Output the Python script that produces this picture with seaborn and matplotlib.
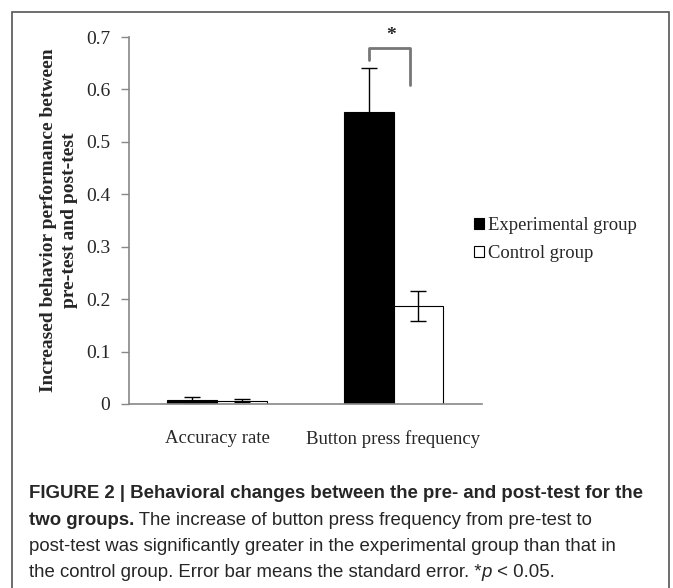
import matplotlib
matplotlib.use("Agg")
import matplotlib.pyplot as plt
import matplotlib.patches as mpatches
from matplotlib import font_manager
import pandas as pd
import seaborn as sns

# values
categories = ["Accuracy rate", "Button press frequency"]
groups = ["Experimental group", "Control group"]
exp_means = [0.008, 0.557]
exp_se = [0.006, 0.084]
ctl_means = [0.006, 0.187]
ctl_se = [0.003, 0.029]
y_ticks = [0, 0.1, 0.2, 0.3, 0.4, 0.5, 0.6, 0.7]
y_tick_labels = ["0", "0.1", "0.2", "0.3", "0.4", "0.5", "0.6", "0.7"]

names = {f.name for f in font_manager.fontManager.ttflist}
serif = "Liberation Serif" if "Liberation Serif" in names else "DejaVu Serif"
sans = "Liberation Sans" if "Liberation Sans" in names else "DejaVu Sans"

sns.set_style("white")
plt.rcParams["font.family"] = [serif, "DejaVu Sans"]

df = pd.DataFrame({
	"category": categories * 2,
	"group": [groups[0]] * 2 + [groups[1]] * 2,
	"value": exp_means + ctl_means,
	"se": exp_se + ctl_se,
})

fig = plt.figure(figsize=(6.73, 5.88), dpi=100)
ax = fig.add_axes([0.1917, 0.313, 0.524, 0.624])

sns.barplot(data=df, x="category", y="value", hue="group", order=categories,
			hue_order=groups, palette=["black", "white"], width=0.565,
			errorbar=None, edgecolor="black", linewidth=0.8, legend=False, ax=ax)

# error bars from the bar positions seaborn laid out
for cont, grp in zip(ax.containers, groups):
	sub = df[df["group"] == grp].set_index("category").loc[categories]
	xs = [b.get_x() + b.get_width() / 2 for b in cont]
	ax.errorbar(xs, sub["value"], yerr=sub["se"], fmt="none", ecolor="black",
				elinewidth=1.0, capsize=5.5, capthick=1.0)

ax.set_ylim(0, 0.7)
ax.set_xlim(-0.5, 1.5)
ax.set_yticks(y_ticks)
ax.set_yticklabels(y_tick_labels, fontsize=14)
ax.set_xticks([0, 1])
ax.set_xticklabels(categories, fontsize=13.5)
ax.set_xticks([-0.5, 0.5, 1.5], minor=True)
ax.tick_params(axis="x", which="major", length=0, pad=19)
ax.tick_params(axis="x", which="minor", length=6, color="#888888", width=1, direction="out")
ax.tick_params(axis="y", length=6, color="#888888", width=1, direction="out", pad=7.5, left=True)
ax.set_xlabel("")
ax.set_ylabel("Increased behavior performance between\npre-test and post-test",
			  fontsize=14, fontweight="bold", labelpad=5.5, linespacing=1.32)
for side in ["top", "right"]:
	ax.spines[side].set_visible(False)
for side in ["left", "bottom"]:
	ax.spines[side].set_color("#888888")
	ax.spines[side].set_linewidth(1.2)

# significance bracket over the button press bars
bx = [b.get_x() + b.get_width() / 2 for b in ax.containers[0]][1]
ax.plot([bx, bx, bx + 0.232, bx + 0.232], [0.656, 0.679, 0.679, 0.609],
		color="#777777", lw=2, clip_on=False)
ax.text(bx + 0.13, 0.686, "*", ha="center", va="bottom", fontsize=14, fontweight="bold")

# legend
handles = [mpatches.Patch(facecolor=c, edgecolor="black", linewidth=0.8) for c in ["black", "white"]]
fig.legend(handles, groups, loc="center left", bbox_to_anchor=(0.679, 0.593), frameon=False,
		   fontsize=13.4, handlelength=0.55, handleheight=0.55, handletextpad=0.2, labelspacing=0.6)

# frame around the figure panel
fig.patches.append(mpatches.Rectangle((0.0185, -0.05), 0.975, 1.03, transform=fig.transFigure,
									  fill=False, edgecolor="#555555", linewidth=1.2))

# caption, drawn piece by piece so bold/italic runs sit inline
caption = [
	[("FIGURE 2 | Behavioral changes between the pre- and post-test for the", "bold", "normal")],
	[("two groups.", "bold", "normal"), (" The increase of button press frequency from pre-test to", "normal", "normal")],
	[("post-test was significantly greater in the experimental group than that in", "normal", "normal")],
	[("the control group. Error bar means the standard error. *", "normal", "normal"), ("p", "normal", "italic"),
	 (" < 0.05.", "normal", "normal")],
]
line_y = [0.160, 0.114, 0.070, 0.027]
renderer = fig.canvas.get_renderer()

# fit the first caption line to its width in the reference (29 px to 645 px)
probe = fig.text(0, 0, caption[0][0][0], fontsize=14, fontweight="bold", family=[sans, "DejaVu Sans"])
w = probe.get_window_extent(renderer=renderer).width
probe.remove()
cap_size = 14 * 616 / w

for pieces, yy in zip(caption, line_y):
	x0 = 0.043
	for txt, wt, st in pieces:
		t = fig.text(x0, yy, txt, fontsize=cap_size, fontweight=wt, style=st, family=[sans, "DejaVu Sans"],
					 va="center", ha="left")
		bb = t.get_window_extent(renderer=renderer)
		x0 = fig.transFigure.inverted().transform((bb.x1, bb.y0))[0]

fig.savefig("out.png", dpi=100)
